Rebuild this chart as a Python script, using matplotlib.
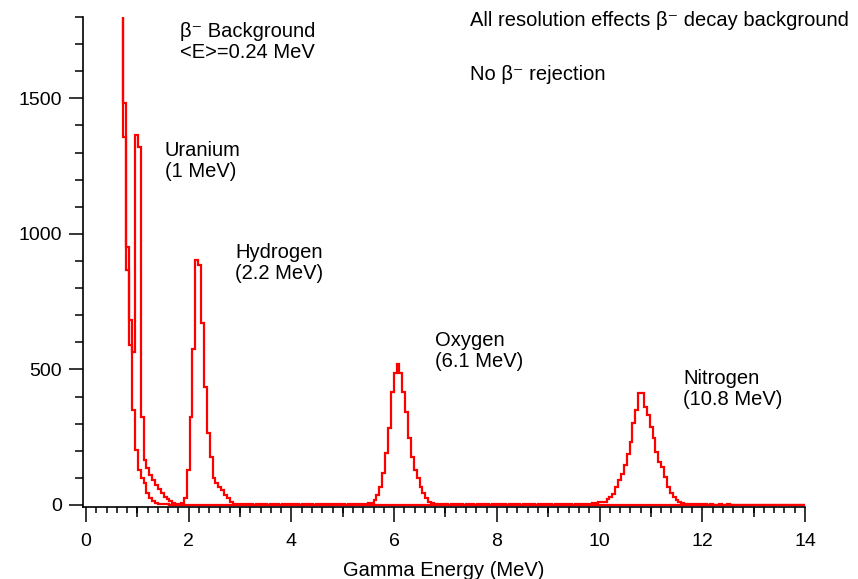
import numpy as np
import matplotlib
matplotlib.use("Agg")
import matplotlib.pyplot as plt

plt.rcParams['font.family'] = ['Liberation Sans', 'DejaVu Sans']

# ---------------- data ----------------
bin_start = 0.672   # MeV, lower edge of first stored bin
bin_width = 0.056   # MeV

# beta- decay background only
beta_counts = [
    2600, 1481, 952, 590, 350, 203, 129, 99, 81, 44, 25, 15, 8, 5, 3, 2, 2, 1, 1, 1,
    1, 1, 0, 1, 1, 0, 1, 0, 1, 1, 0, 1, 0, 1, 0, 1, 1, 0, 1, 0,
    0, 1, 0, 1, 0, 1, 0, 0, 1, 0, 1, 0, 0, 1, 0, 1, 0, 0, 1, 0,
    1, 0, 0, 1, 0, 1, 0, 0, 1, 0, 1, 0, 0, 1, 0, 0, 1, 0, 1, 0,
    0, 1, 0, 1, 0, 0, 1, 0, 1, 0, 0, 1, 0, 0, 1, 0, 1, 0, 0, 1,
    0, 1, 0, 0, 1, 0, 1, 0, 0, 1, 0, 0, 1, 0, 1, 0, 0, 1, 0, 1,
    0, 0, 1, 0, 1, 0, 0, 1, 0, 0, 1, 0, 1, 0, 0, 1, 0, 1, 0, 0,
    1, 0, 0, 1, 0, 1, 0, 0, 1, 0, 1, 0, 0, 1, 0, 0, 1, 0, 1, 0,
    0, 1, 0, 1, 0, 0, 1, 0, 0, 1, 0, 1, 0, 0, 1, 0, 1, 0, 0, 1,
    0, 0, 1, 0, 1, 0, 0, 1, 0, 1, 0, 0, 1, 0, 0, 1, 0, 1, 0, 0,
    1, 0, 1, 0, 0, 1, 0, 0, 1, 0, 1, 0, 0, 1, 0, 1, 0, 0, 1, 0,
    0, 1, 0, 1, 0, 0, 1, 0, 0, 1, 0, 1, 0, 0, 1, 0, 1, 0,
]

# gamma lines (U, H, O, N) plus beta- background
total_counts = [
    2600, 1358, 866, 682, 565, 1364, 1321, 325, 166, 136, 110, 92, 75, 60, 45, 31, 22, 15, 8, 5,
    4, 8, 25, 129, 325, 577, 905, 884, 670, 436, 264, 178, 98, 80, 68, 55, 37, 25, 12, 5,
    3, 2, 4, 2, 3, 2, 1, 3, 2, 2, 3, 1, 2, 3, 2, 1, 2, 3, 2, 2,
    2, 3, 1, 2, 2, 3, 2, 1, 2, 3, 2, 2, 1, 3, 2, 2, 3, 2, 1, 2,
    2, 3, 4, 3, 5, 4, 6, 8, 18, 37, 67, 118, 191, 284, 418, 486, 520, 486, 418, 344,
    247, 178, 129, 99, 67, 44, 26, 12, 8, 5, 3, 2, 3, 2, 1, 2, 3, 2, 2, 1,
    2, 3, 2, 1, 2, 2, 3, 2, 1, 2, 2, 3, 2, 2, 1, 2, 3, 2, 2, 1,
    2, 2, 3, 2, 1, 2, 2, 3, 2, 2, 1, 2, 3, 2, 2, 3, 2, 1, 2, 3,
    2, 3, 4, 5, 6, 8, 10, 12, 12, 21, 30, 42, 65, 92, 114, 147, 188, 233, 301, 350,
    414, 414, 362, 332, 289, 246, 197, 160, 141, 104, 68, 43, 29, 19, 11, 8, 5, 3, 2, 2,
    2, 1, 2, 2, 1, 2, 1, 1, 2, 1, 1, 2, 1, 1, 0, 1, 1, 0, 1, 1,
    0, 1, 1, 0, 1, 0, 1, 0, 0, 1, 0, 0, 1, 0, 0, 0, 1, 0,
]

x_major_ticks = [0, 2, 4, 6, 8, 10, 12, 14]
x_mid_ticks = [1, 3, 5, 7, 9, 11, 13]
y_major_ticks = [0, 500, 1000, 1500]

# ---------------- figure ----------------
W, H = 858, 579
fig = plt.figure(figsize=(W / 100, H / 100), dpi=100)
left_px, right_px, top_px, bottom_px = 83, 805, 17, 507
ax = fig.add_axes([left_px / W, 1 - bottom_px / H,
                   (right_px - left_px) / W, (bottom_px - top_px) / H])

edges = bin_start + bin_width * np.arange(len(total_counts) + 1)
ax.stairs(beta_counts, edges, baseline=None, color='#ff0000', lw=1.6)
ax.stairs(total_counts, edges, baseline=None, color='#ff0000', lw=1.6)

ax.set_xlim(-0.058, 14)
ax.set_ylim(-7.4, 1800)

for s in ['top', 'right']:
    ax.spines[s].set_visible(False)
for s in ['left', 'bottom']:
    ax.spines[s].set_linewidth(1.2)

ax.set_xticks(x_major_ticks)
ax.set_xticks(np.arange(0, 14.01, 0.2), minor=True)
ax.set_yticks(y_major_ticks)
ax.set_yticks(np.arange(0, 1801, 100), minor=True)

ax.tick_params(axis='x', which='major', length=10.5, width=1.1, direction='out',
               labelsize=14, pad=8.5)
ax.tick_params(axis='x', which='minor', length=4.5, width=1.1, direction='out')
ax.tick_params(axis='y', which='major', length=10, width=1.1, direction='out',
               labelsize=14, pad=5)
ax.tick_params(axis='y', which='minor', length=6, width=1.1, direction='out')

sec = ax.secondary_xaxis('bottom')
sec.set_xticks(x_mid_ticks)
sec.tick_params(length=7.5, width=1.1, labelbottom=False)
sec.spines['bottom'].set_visible(False)

ax.set_xlabel('Gamma Energy (MeV)', fontsize=14.5, labelpad=8)

# ---------------- annotations ----------------
def ftext(px, py, s, **kw):
    fig.text(px / W, 1 - py / H, s, fontsize=14.5, ha='left', va='center',
             linespacing=1.16, **kw)

ftext(180, 42, 'β⁻ Background\n<E>=0.24 MeV')
ftext(165, 161, 'Uranium\n(1 MeV)')
ftext(235, 263, 'Hydrogen\n(2.2 MeV)')
ftext(435, 351, 'Oxygen\n(6.1 MeV)')
ftext(683, 389, 'Nitrogen\n(10.8 MeV)')
ftext(470, 21, 'All resolution effects β⁻ decay background')
ftext(470, 75, 'No β⁻ rejection')

fig.savefig('out.png', dpi=100)
